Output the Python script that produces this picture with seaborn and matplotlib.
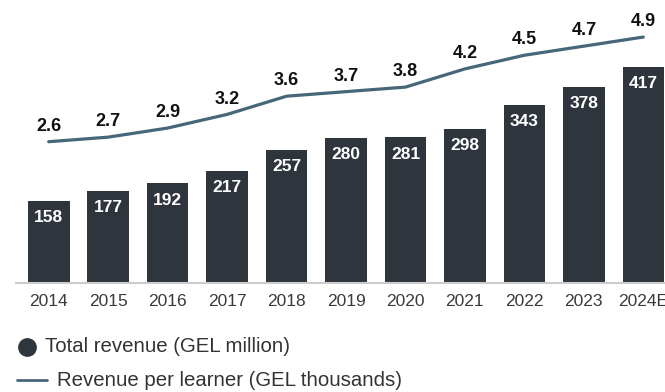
import matplotlib
matplotlib.use("Agg")
import matplotlib.pyplot as plt
from matplotlib.lines import Line2D
import numpy as np
import pandas as pd
import seaborn as sns

# Revenue series by year
years = ["2014", "2015", "2016", "2017", "2018", "2019", "2020", "2021", "2022", "2023", "2024E"]
total_revenue = [158, 177, 192, 217, 257, 280, 281, 298, 343, 378, 417]          # GEL million
revenue_per_learner = [2.6, 2.7, 2.9, 3.2, 3.6, 3.7, 3.8, 4.2, 4.5, 4.7, 4.9]    # GEL thousands

legend_labels = ["Total revenue (GEL million)", "Revenue per learner (GEL thousands)"]

BAR_COLOR = "#2e353c"
LINE_COLOR = "#46667a"
BASE_COLOR = "#cccccc"

sns.set_style("white")
plt.rcParams["font.family"] = ["Liberation Sans", "DejaVu Sans"]

df = pd.DataFrame({"year": years, "total": total_revenue,
                   "per_learner": revenue_per_learner,
                   "pos": np.arange(len(years))})

fig = plt.figure(figsize=(6.65, 3.92), dpi=100)
W, H = 665, 392
ax = fig.add_axes([16 / W, 109 / H, 663 / W, 283 / H])

sns.barplot(data=df, x="year", y="total", color=BAR_COLOR, width=0.7,
            saturation=1, ax=ax, edgecolor="none")
ax.set_xlim(-0.55, 10.6)
ax.set_ylim(0, 546)
ax.set_xlabel("")
ax.set_ylabel("")
ax.set_yticks([])
for side in ["top", "right", "left"]:
    ax.spines[side].set_visible(False)
ax.spines["bottom"].set_color(BASE_COLOR)
ax.spines["bottom"].set_linewidth(1.5)
ax.tick_params(axis="x", length=0, pad=8, labelsize=12.5, labelcolor="#3a3a3a")

for i, v in enumerate(total_revenue):
    ax.annotate(str(v), (i, v), xytext=(0, -12), textcoords="offset points",
                ha="center", va="center", color="white", fontsize=12.5,
                fontweight="bold")

ax2 = ax.twinx()
sns.lineplot(data=df, x="pos", y="per_learner", color=LINE_COLOR, linewidth=2.3,
             ax=ax2)
ax2.set_ylim(-0.505, 5.714)
ax2.set_xlim(-0.55, 10.6)
ax2.set_yticks([])
ax2.set_ylabel("")
ax2.set_xlabel("")
for side in ["top", "right", "left", "bottom"]:
    ax2.spines[side].set_visible(False)

for i, v in enumerate(revenue_per_learner):
    ax2.annotate(f"{v:.1f}", (i, v), xytext=(0, 11), textcoords="offset points",
                 ha="center", va="center", color="#111111", fontsize=13,
                 fontweight="bold")

# Legend drawn in figure coordinates
fig.add_artist(Line2D([27 / W], [1 - 347 / H], marker="o", markersize=12.5,
                      color=BAR_COLOR, linestyle="none", transform=fig.transFigure))
fig.text(45 / W, 1 - 347 / H, legend_labels[0], ha="left", va="center",
         fontsize=14.7, color="#333333")
fig.add_artist(Line2D([17 / W, 47 / W], [1 - 380 / H, 1 - 380 / H],
                      color=LINE_COLOR, linewidth=2, transform=fig.transFigure))
fig.text(57 / W, 1 - 380 / H, legend_labels[1], ha="left", va="center",
         fontsize=14.7, color="#333333")

fig.savefig("out.png", dpi=100)
